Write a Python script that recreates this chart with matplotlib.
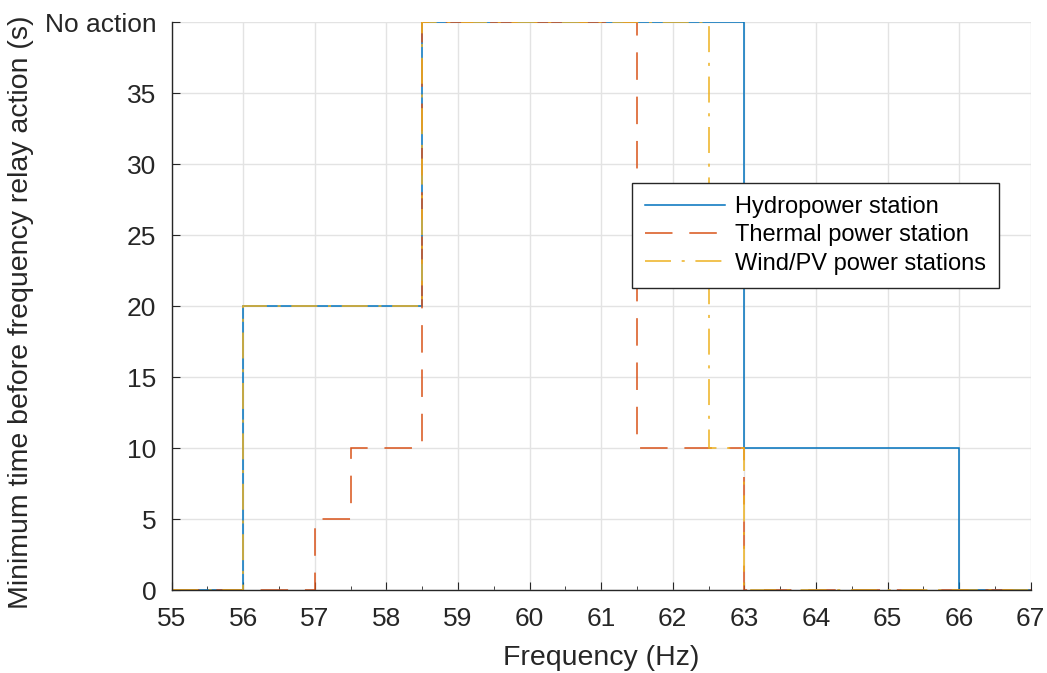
import matplotlib.pyplot as plt
import numpy as np

plt.rcParams['font.family'] = ['Liberation Sans', 'DejaVu Sans']

# step edges (Hz) and minimum times (s); 40 means "No action"
hydro_edges = [55, 56, 58.5, 63, 66, 67]
hydro_vals = [0, 20, 40, 10, 0]
thermal_edges = [55, 57, 57.5, 58.5, 61.5, 63, 67]
thermal_vals = [0, 5, 10, 40, 10, 0]
wind_edges = [55, 56, 58.5, 62.5, 63, 67]
wind_vals = [0, 20, 40, 10, 0]

y_ticks = [0, 5, 10, 15, 20, 25, 30, 35, 40]
y_ticklabels = ['0', '5', '10', '15', '20', '25', '30', '35', 'No action']

fig = plt.figure(figsize=(10.47, 6.73), dpi=100)
ax = fig.add_axes([0.164, 0.1233, 0.8204, 0.8437])

ax.stairs(hydro_vals, hydro_edges, baseline=None, color='#0072BD', lw=1.1,
          label='Hydropower station')
ax.stairs(thermal_vals, thermal_edges, baseline=None, color='#D95319', lw=1.1,
          linestyle=(0, (18, 11)), label='Thermal power station')
ax.stairs(wind_vals, wind_edges, baseline=None, color='#EDB120', lw=1.1,
          linestyle=(0, (17, 7, 2, 7)), label='Wind/PV power stations')

ax.set_xlim(55, 67)
ax.set_ylim(0, 40)
ax.set_xticks(np.arange(55, 68, 1))
ax.set_xticks(np.arange(55, 67.5, 0.5), minor=True)
ax.set_yticks(y_ticks)
ax.set_yticklabels(y_ticklabels)

ax.grid(True, which='major', color='#e3e3e3', lw=1.0)
ax.set_axisbelow(True)
for s in ['top', 'right']:
    ax.spines[s].set_visible(False)
for s in ['left', 'bottom']:
    ax.spines[s].set_color('#262626')
    ax.spines[s].set_linewidth(1.0)
ax.tick_params(axis='both', which='major', direction='in', length=6,
               colors='#262626', labelsize=19, labelcolor='#262626')
ax.tick_params(axis='x', which='minor', direction='in', length=3, color='#262626')
ax.tick_params(axis='x', pad=12)
ax.tick_params(axis='y', pad=11)

ax.set_xlabel('Frequency (Hz)', fontsize=20.5, color='#262626')
ax.set_ylabel('Minimum time before frequency relay action (s)', fontsize=20.5,
              color='#262626')
ax.xaxis.set_label_coords(0.5, -0.097)
ax.yaxis.set_label_coords(-0.16, 0.49)

leg = ax.legend(loc='upper left', bbox_to_anchor=(0.536, 0.717), fontsize=17,
                fancybox=False, framealpha=1, edgecolor='#262626',
                handlelength=3.4, handletextpad=0.4, borderpad=0.55,
                labelspacing=0.27, borderaxespad=0)
leg.get_frame().set_linewidth(1.0)

plt.savefig('out.png', dpi=100)
